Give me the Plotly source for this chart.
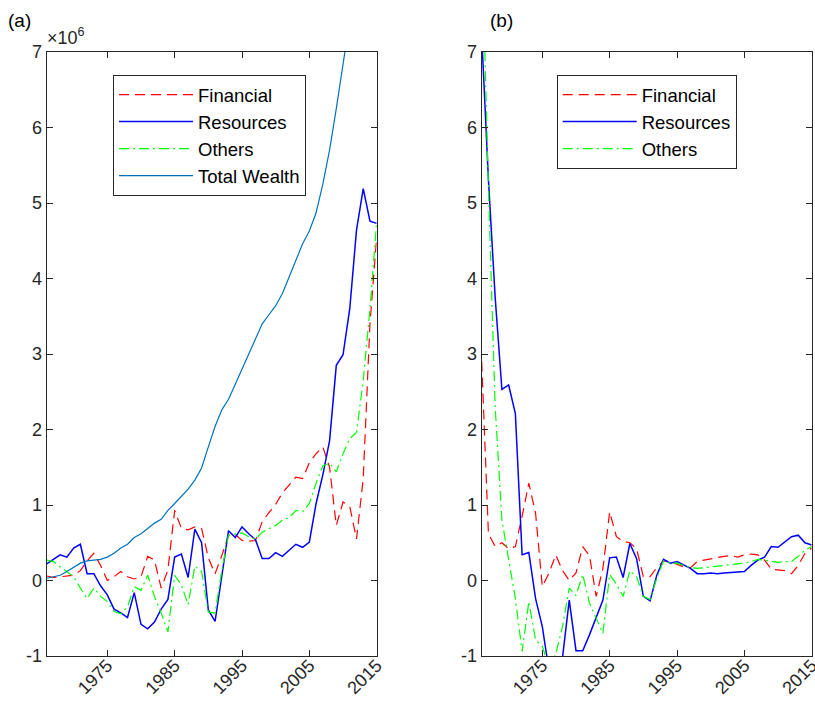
import plotly.graph_objects as go

years = list(range(1966, 2016))

# Panel (a), values in units of 10^6
fin_a = [0.06, 0.04, 0.05, 0.06, 0.07, 0.13, 0.26, 0.36, 0.20, 0.00,
         0.05, 0.12, 0.05, 0.02, 0.05, 0.32, 0.27, -0.10, 0.14, 0.93,
         0.69, 0.67, 0.71, 0.69, 0.30, 0.09, 0.33, 0.60, 0.61, 0.53,
         0.52, 0.53, 0.78, 0.90, 1.01, 1.16, 1.27, 1.37, 1.35, 1.56,
         1.68, 1.77, 1.50, 0.73, 1.04, 0.98, 0.55, 1.35, 3.40, 4.55]
res_a = [0.22, 0.28, 0.34, 0.31, 0.43, 0.48, 0.09, 0.09, -0.07, -0.19,
         -0.38, -0.43, -0.49, -0.16, -0.58, -0.64, -0.55, -0.38, -0.25, 0.31,
         0.35, 0.04, 0.68, 0.50, -0.39, -0.54, 0.09, 0.66, 0.57, 0.71,
         0.62, 0.54, 0.29, 0.29, 0.37, 0.32, 0.40, 0.48, 0.44, 0.51,
         1.02, 1.40, 1.85, 2.85, 2.99, 3.60, 4.64, 5.19, 4.76, 4.73]
oth_a = [0.27, 0.25, 0.18, 0.12, 0.05, -0.10, -0.24, -0.10, -0.21, -0.28,
         -0.41, -0.44, -0.35, -0.08, -0.13, 0.07, -0.21, -0.43, -0.68, 0.07,
         -0.06, -0.32, 0.19, 0.12, -0.42, -0.43, 0.13, 0.60, 0.62, 0.63,
         0.58, 0.55, 0.64, 0.68, 0.73, 0.80, 0.83, 0.93, 0.91, 1.02,
         1.29, 1.52, 1.55, 1.44, 1.68, 1.88, 1.96, 2.65, 3.60, 4.76]
tot_a = [0.03, 0.05, 0.07, 0.12, 0.17, 0.23, 0.26, 0.27, 0.28, 0.31,
         0.36, 0.43, 0.48, 0.57, 0.62, 0.69, 0.76, 0.81, 0.93, 1.02,
         1.11, 1.21, 1.33, 1.49, 1.77, 2.04, 2.26, 2.40, 2.60, 2.80,
         3.00, 3.22, 3.40, 3.52, 3.64, 3.80, 4.02, 4.25, 4.46, 4.63,
         4.87, 5.25, 5.70, 6.25, 6.85, 7.50, 8.10, 8.60, 9.00, 9.40]

# Panel (b)
fin_b = [2.90, 0.62, 0.45, 0.50, 0.42, 0.45, 0.85, 1.29, 0.89, -0.08,
         0.10, 0.34, 0.13, 0.00, 0.10, 0.45, 0.33, -0.21, 0.16, 0.91,
         0.58, 0.52, 0.50, 0.42, 0.05, 0.05, 0.17, 0.26, 0.25, 0.22,
         0.18, 0.17, 0.25, 0.27, 0.29, 0.31, 0.32, 0.33, 0.31, 0.34,
         0.35, 0.34, 0.27, 0.15, 0.14, 0.13, 0.09, 0.20, 0.36, 0.43]
res_b = [7.22, 5.31, 3.75, 2.53, 2.59, 2.21, 0.34, 0.37, -0.24, -0.61,
         -1.20, -1.50, -1.02, -0.26, -0.93, -0.93, -0.72, -0.48, -0.26, 0.30,
         0.31, 0.04, 0.49, 0.29, -0.21, -0.27, 0.07, 0.28, 0.23, 0.25,
         0.20, 0.16, 0.09, 0.09, 0.10, 0.09, 0.10, 0.11, 0.11, 0.12,
         0.20, 0.27, 0.31, 0.45, 0.44, 0.51, 0.58, 0.60, 0.50, 0.47]
oth_b = [8.60, 5.20, 2.30, 0.80, 0.28, -0.24, -0.94, -0.28, -0.79, -0.87,
         -1.15, -0.97, -0.61, -0.10, -0.20, 0.08, -0.30, -0.50, -0.70, 0.08,
         -0.05, -0.21, 0.13, 0.05, -0.21, -0.25, 0.03, 0.26, 0.23, 0.23,
         0.20, 0.17, 0.16, 0.17, 0.18, 0.19, 0.20, 0.21, 0.22, 0.23,
         0.25, 0.28, 0.27, 0.25, 0.24, 0.25, 0.25, 0.32, 0.40, 0.45]

xtick_vals = [1975, 1985, 1995, 2005, 2015]
xtick_text = ["1975", "1985", "1995", "2005", "2015"]
ytick_vals = [-1, 0, 1, 2, 3, 4, 5, 6, 7]
ytick_text = ["-1", "0", "1", "2", "3", "4", "5", "6", "7"]

FONT = "Liberation Sans, Arial, Helvetica, sans-serif"
AX = "#262626"
RED, BLUE, GREEN, TW = "#FF0000", "#0000FF", "#00FF00", "#0072BD"
DASH = "10px,6px"
DASHDOT = "10px,4px,2px,4px"

fig = go.Figure()

def add(x, y, name, color, dash, width, xa, ya, leg):
    fig.add_trace(go.Scatter(x=x, y=y, name=name, mode="lines",
                             line=dict(color=color, dash=dash, width=width),
                             xaxis=xa, yaxis=ya, legend=leg))

add(years, fin_a, "Financial", RED, DASH, 1.2, "x", "y", "legend")
add(years, res_a, "Resources", BLUE, "solid", 1.5, "x", "y", "legend")
add(years, oth_a, "Others", GREEN, DASHDOT, 1.2, "x", "y", "legend")
add(years, tot_a, "Total Wealth", TW, "solid", 1.2, "x", "y", "legend")

add(years, fin_b, "Financial", RED, DASH, 1.2, "x2", "y2", "legend2")
add(years, res_b, "Resources", BLUE, "solid", 1.5, "x2", "y2", "legend2")
add(years, oth_b, "Others", GREEN, DASHDOT, 1.2, "x2", "y2", "legend2")

W, H = 815, 701
top, bot = 52, 656
ydom = [1 - bot / H, 1 - top / H]

xcommon = dict(range=[1966, 2015], tickvals=xtick_vals, ticktext=xtick_text,
               tickangle=-45, ticks="inside", ticklen=6, tickcolor=AX,
               showline=True, linecolor=AX, linewidth=1, mirror="ticks",
               showgrid=False, zeroline=False, automargin=False,
               ticklabelstandoff=-9, ticklabeloverflow="allow",
               tickfont=dict(family=FONT, size=18, color=AX))
ycommon = dict(range=[-1, 7], tickvals=ytick_vals, ticktext=ytick_text,
               ticks="inside", ticklen=6, tickcolor=AX,
               showline=True, linecolor=AX, linewidth=1, mirror="ticks",
               showgrid=False, zeroline=False, automargin=False,
               tickfont=dict(family=FONT, size=18, color=AX))

legcommon = dict(bgcolor="white", bordercolor=AX, borderwidth=1,
                 font=dict(family=FONT, size=18.5, color="#000000"),
                 xanchor="left", yanchor="top", itemwidth=74,
                 tracegroupgap=0)

fig.update_layout(
    width=W, height=H,
    margin=dict(l=0, r=0, t=0, b=0, autoexpand=False),
    paper_bgcolor="white", plot_bgcolor="white",
    xaxis=dict(domain=[46.7 / W, 376.7 / W], anchor="y", **xcommon),
    yaxis=dict(domain=ydom, anchor="x", **ycommon),
    xaxis2=dict(domain=[481.7 / W, 811.7 / W], anchor="y2", **xcommon),
    yaxis2=dict(domain=ydom, anchor="x2", **ycommon),
    legend=dict(x=113 / W, y=1 - 75 / H, **legcommon),
    legend2=dict(x=556.7 / W, y=1 - 75 / H, **legcommon),
    annotations=[
        dict(text="(a)", x=6 / W, y=1 - 20 / H, xref="paper", yref="paper",
             xanchor="left", yanchor="middle", showarrow=False,
             font=dict(family=FONT, size=19, color="#000000")),
        dict(text="(b)", x=488 / W, y=1 - 20 / H, xref="paper", yref="paper",
             xanchor="left", yanchor="middle", showarrow=False,
             font=dict(family=FONT, size=19, color="#000000")),
        dict(text="\u00d710<sup>6</sup>", x=45 / W, y=1 - 50 / H,
             xref="paper", yref="paper", xanchor="left", yanchor="bottom",
             showarrow=False,
             font=dict(family=FONT, size=18, color=AX)),
    ],
)

fig.write_html(
    "out.html",
    config={"displayModeBar": False},
    post_script="document.body.style.margin='0';"
                "document.body.style.overflow='hidden';",
)
